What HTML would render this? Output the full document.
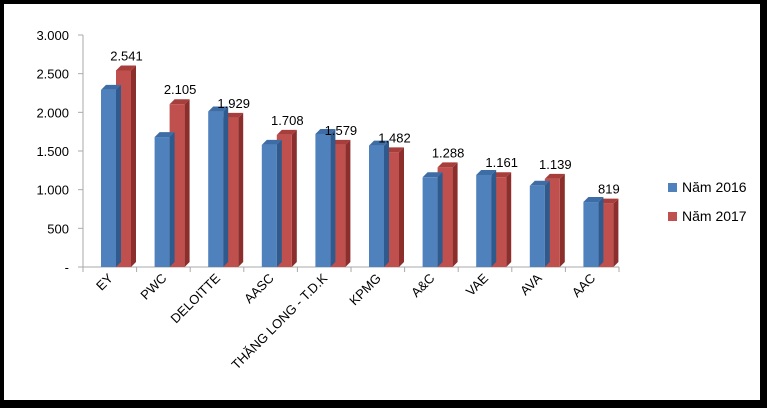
<!DOCTYPE html>
<html><head><meta charset="utf-8"><style>
html,body{margin:0;padding:0;background:#000;}
svg{display:block;font-family:"Liberation Sans",sans-serif;}
</style></head><body>
<svg width="767" height="408">
<rect x="4" y="4" width="756" height="396" fill="#fff"/>
<g id="g"></g>
</svg>
<script>
const categories=["EY","PWC","DELOITTE","AASC","THĂNG LONG - T.D.K","KPMG","A&C","VAE","AVA","AAC"];
const values2016=[2290,1680,2010,1580,1720,1570,1160,1190,1050,840];
const values2017=[2541,2105,1929,1708,1579,1482,1288,1161,1139,819];
const yTicks=[0,500,1000,1500,2000,2500,3000];
const yTickLabels=["-","500","1.000","1.500","2.000","2.500","3.000"];
const labels2017=["2.541","2.105","1.929","1.708","1.579","1.482","1.288","1.161","1.139","819"];
const NS="http://www.w3.org/2000/svg";
const g=document.getElementById('g');
const x0=83,x1=619,y0=267,yTop=35,ymax=3000;
const cw=(x1-x0)/categories.length;
const Y=v=>y0-(v/ymax)*(y0-yTop);
const X=i=>x0+i*cw;
function mk(t,a){const e=document.createElementNS(NS,t);for(const k in a)e.setAttribute(k,a[k]);g.appendChild(e);return e;}
// axes
let ax=mk('line',{x1:x0,y1:yTop,x2:x0,y2:y0,stroke:'#aaa'});


let xa=mk('line',{x1:x0,y1:y0,x2:x1,y2:y0,stroke:'#aaa'});


yTicks.forEach((v,i)=>{
 let t=mk('line',{x1:x0-5,y1:Y(v),x2:x0,y2:Y(v),stroke:'#aaa'});
 
 
 let l=mk('text',{x:x0-14,y:Y(v)+5,'text-anchor':'end','font-size':13,fill:'#000'});
 l.textContent=yTickLabels[i];
 
 
});
for(let i=0;i<=categories.length;i++){
 let t=mk('line',{x1:X(i),y1:y0,x2:X(i),y2:y0+5,stroke:'#aaa'});
 
 
}
function bar(x,w,v,front,side,top,name){
 const y=Y(v),d=5;
 let s=mk('polygon',{points:`${x+w},${y} ${x+w+d},${y-d} ${x+w+d},${y0-d} ${x+w},${y0}`,fill:side});
 
 
 let tp=mk('polygon',{points:`${x},${y} ${x+d},${y-d} ${x+w+d},${y-d} ${x+w},${y}`,fill:top});
 
 
 let r=mk('rect',{x:x,y:y,width:w,height:y0-y,fill:front});
 
 
}
categories.forEach((c,i)=>{
 const bx=X(i)+18,bw=15;
 bar(bx+bw,bw,values2017[i],'#C0504D','#8B2E2C','#A83E3B','bar-2017-'+i);
 bar(bx,bw,values2016[i],'#4F81BD','#2E5A8E','#3E6DA6','bar-2016-'+i);
 let dl=mk('text',{x:bx+bw*1.5+3,y:Y(values2017[i])-10,'text-anchor':'middle','font-size':13,fill:'#000'});
 dl.textContent=labels2017[i];
 
 
 const cx=X(i)+cw/2+4,cy=y0+12;
 let xl=mk('text',{x:cx,y:cy,'text-anchor':'end','font-size':13,fill:'#000',transform:`rotate(-45 ${cx} ${cy})`});
 xl.textContent=c;
 
 
});
// legend
[['Năm 2016','#4F81BD',188],['Năm 2017','#C0504D',217]].forEach(([t,col,y])=>{
 let r=mk('rect',{x:668,y:y-5,width:9,height:9,fill:col});
 
 
 let l=mk('text',{x:682,y:y+4,'font-size':14,fill:'#000'});
 l.textContent=t;
 
 
});
</script>
</body></html>
